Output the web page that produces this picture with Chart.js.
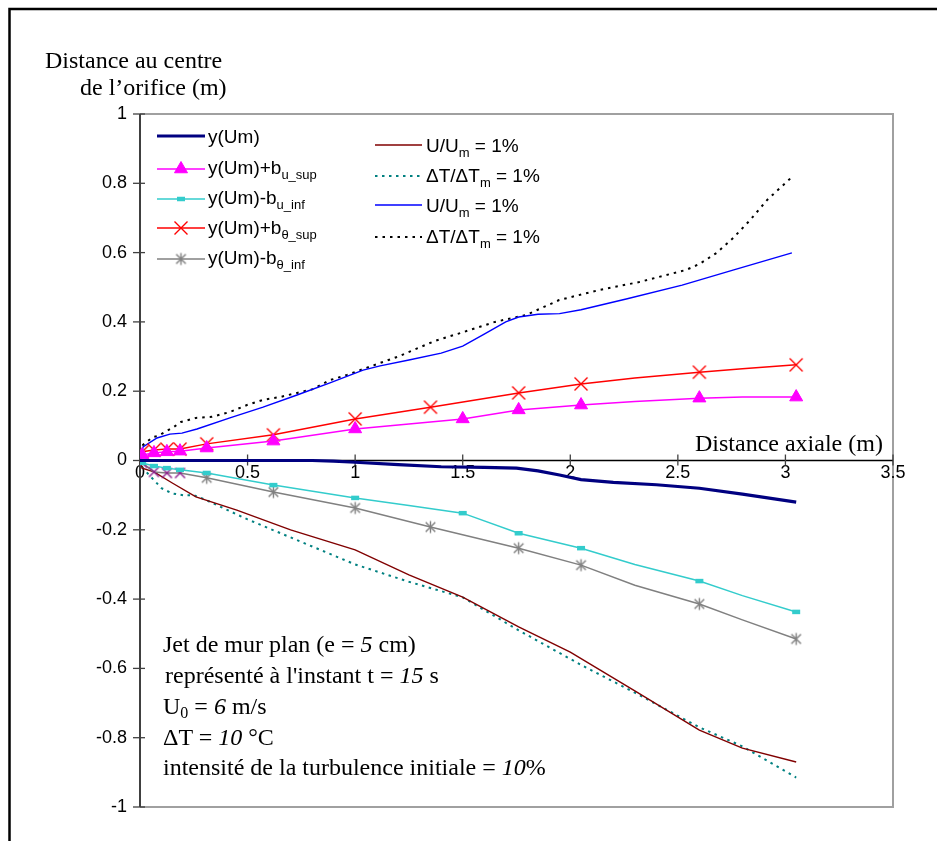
<!DOCTYPE html>
<html><head><meta charset="utf-8">
<script src="https://cdn.jsdelivr.net/npm/chart.js@4.4.0/dist/chart.umd.min.js"></script>
<style>
html,body{margin:0;padding:0;background:#fff;}
#wrap{position:relative;width:937px;height:841px;overflow:hidden;background:#fff;}
#c{position:absolute;left:0;top:0;}
.t{position:absolute;font-family:"Liberation Serif","Times New Roman",serif;font-size:24px;color:#000;white-space:pre;line-height:28px;transform:translateY(-50%);}
.t sub{font-size:16px;vertical-align:-4px;line-height:0;}
.lg{position:absolute;font-family:"Liberation Sans",Arial,sans-serif;font-size:19px;color:#000;white-space:nowrap;line-height:22px;transform:translateY(-50%);}
.lg sub{font-size:13px;vertical-align:-5px;line-height:0;}
</style></head>
<body>
<div id="wrap">
<canvas id="c" width="937" height="841"></canvas>
<div class="t" style="left:45px;top:60px;">Distance au centre</div>
<div class="t" style="left:80px;top:87px;">de l’orifice (m)</div>
<div class="t" style="left:695px;top:443px;">Distance axiale (m)</div>
<div class="t" style="left:163px;top:644px;">Jet de mur plan (e = <i>5</i> cm)</div>
<div class="t" style="left:159px;top:675px;"> représenté à l'instant t = <i>15</i> s</div>
<div class="t" style="left:163px;top:706px;">U<sub>0</sub> = <i>6</i> m/s</div>
<div class="t" style="left:163px;top:737px;">ΔT = <i>10</i> °C</div>
<div class="t" style="left:163px;top:767px;">intensité de la turbulence initiale = <i>10</i>%</div>
<div class="lg" style="left:208px;top:137px;">y(Um)</div>
<div class="lg" style="left:208px;top:168px;">y(Um)+b<sub>u_sup</sub></div>
<div class="lg" style="left:208px;top:198px;">y(Um)-b<sub>u_inf</sub></div>
<div class="lg" style="left:208px;top:228px;">y(Um)+b<sub>θ_sup</sub></div>
<div class="lg" style="left:208px;top:258px;">y(Um)-b<sub>θ_inf</sub></div>
<div class="lg" style="left:426px;top:146px;">U/U<sub>m</sub> = 1%</div>
<div class="lg" style="left:426px;top:176px;">ΔT/ΔT<sub>m</sub> = 1%</div>
<div class="lg" style="left:426px;top:206px;">U/U<sub>m</sub> = 1%</div>
<div class="lg" style="left:426px;top:237px;">ΔT/ΔT<sub>m</sub> = 1%</div>
</div>
<script>
// ---- data ----
const xTicks = [0, 0.5, 1, 1.5, 2, 2.5, 3, 3.5];
const yTicks = [1, 0.8, 0.6, 0.4, 0.2, 0, -0.2, -0.4, -0.6, -0.8, -1];

const umX = [0,0.2,0.4,0.6,0.8,0.9,1.0,1.2,1.4,1.6,1.75,1.85,1.95,2.05,2.2,2.4,2.6,2.8,3.05];
const umY = [0,0,0,0,0,-0.002,-0.005,-0.012,-0.018,-0.02,-0.022,-0.03,-0.042,-0.055,-0.063,-0.07,-0.08,-0.097,-0.12];

const buSupX = [0.01,0.065,0.125,0.186,0.31,0.62,1.0,1.25,1.5,1.76,2.05,2.3,2.6,2.8,3.05];
const buSupY = [0.016,0.022,0.025,0.027,0.036,0.056,0.091,0.105,0.12,0.146,0.16,0.17,0.18,0.183,0.183];
const buSupMarkX = [0.01,0.065,0.125,0.186,0.31,0.62,1.0,1.5,1.76,2.05,2.6,3.05];

const buInfX = [0.01,0.065,0.125,0.186,0.31,0.62,1.0,1.25,1.5,1.76,2.05,2.3,2.6,2.8,3.05];
const buInfY = [-0.007,-0.016,-0.022,-0.027,-0.036,-0.071,-0.108,-0.13,-0.152,-0.21,-0.253,-0.3,-0.348,-0.39,-0.437];
const buInfMarkX = [0.01,0.065,0.125,0.186,0.31,0.62,1.0,1.5,1.76,2.05,2.6,3.05];

const btSupX = [0.01,0.065,0.125,0.186,0.31,0.62,1.0,1.35,1.76,2.05,2.3,2.6,2.8,3.05];
const btSupY = [0.025,0.03,0.033,0.033,0.048,0.074,0.12,0.154,0.195,0.221,0.238,0.255,0.265,0.276];
const btSupMarkX = [0.01,0.065,0.125,0.186,0.31,0.62,1.0,1.35,1.76,2.05,2.6,3.05];

const btInfX = [0.01,0.065,0.125,0.186,0.31,0.62,1.0,1.35,1.76,2.05,2.3,2.6,2.8,3.05];
const btInfY = [-0.007,-0.033,-0.036,-0.036,-0.05,-0.091,-0.137,-0.192,-0.253,-0.302,-0.36,-0.414,-0.46,-0.515];
const btInfMarkX = [0.01,0.065,0.125,0.186,0.31,0.62,1.0,1.35,1.76,2.05,2.6,3.05];

const uLowX = [0,0.01,0.065,0.15,0.26,0.45,0.7,1.0,1.25,1.5,1.76,2.0,2.3,2.6,2.8,3.05];
const uLowY = [0,-0.022,-0.033,-0.065,-0.105,-0.143,-0.2,-0.258,-0.33,-0.394,-0.48,-0.553,-0.665,-0.778,-0.83,-0.87];

const tLowX = [0,0.01,0.1,0.15,0.2,0.25,0.3,0.5,0.75,1.0,1.25,1.5,1.76,2.05,2.3,2.6,2.8,3.05];
const tLowY = [0,-0.02,-0.08,-0.095,-0.1,-0.1,-0.112,-0.17,-0.235,-0.3,-0.35,-0.395,-0.49,-0.59,-0.67,-0.77,-0.825,-0.915];

const uUpX = [0,0.014,0.079,0.139,0.195,0.265,0.418,0.572,0.73,0.883,1.037,1.116,1.25,1.4,1.5,1.6,1.7,1.76,1.85,1.95,2.05,2.26,2.52,2.76,3.03];
const uUpY = [0,0.039,0.065,0.076,0.079,0.091,0.123,0.154,0.189,0.224,0.261,0.273,0.29,0.31,0.33,0.365,0.4,0.414,0.422,0.424,0.435,0.466,0.506,0.55,0.599];

const tUpX = [0,0.014,0.06,0.084,0.158,0.19,0.26,0.335,0.418,0.497,0.572,0.65,0.73,0.804,0.883,0.962,1.037,1.2,1.37,1.5,1.65,1.795,1.948,2.134,2.32,2.538,2.6,2.68,2.757,2.836,2.915,3.03];
const tUpY = [0,0.045,0.068,0.071,0.097,0.111,0.123,0.126,0.14,0.16,0.175,0.183,0.195,0.206,0.232,0.247,0.264,0.3,0.345,0.37,0.4,0.42,0.463,0.492,0.515,0.55,0.567,0.599,0.642,0.694,0.752,0.818];

// ---- helpers ----
const pts = (xs, ys) => xs.map((x, i) => ({x: x, y: ys[i]}));
function markIf(list, r) { return ctx => (ctx.raw && list.includes(ctx.raw.x)) ? r : 0; }

function makeStar(color, r) {
  const c = document.createElement('canvas');
  c.width = c.height = 2 * r + 3;
  const g = c.getContext('2d');
  const m = r + 1.5;
  g.strokeStyle = color; g.lineWidth = 1.4;
  g.beginPath();
  g.moveTo(m, m - r); g.lineTo(m, m + r);
  const d = r * 0.8;
  g.moveTo(m - d, m - d); g.lineTo(m + d, m + d);
  g.moveTo(m - d, m + d); g.lineTo(m + d, m - d);
  g.stroke();
  return c;
}
function makeX(color, r) {
  const c = document.createElement('canvas');
  c.width = c.height = 2 * r + 3;
  const g = c.getContext('2d');
  const m = r + 1.5;
  g.strokeStyle = color; g.lineWidth = 1.4;
  g.beginPath();
  g.moveTo(m - r, m - r); g.lineTo(m + r, m + r);
  g.moveTo(m - r, m + r); g.lineTo(m + r, m - r);
  g.stroke();
  return c;
}
const starGray = makeStar('#808080', 6);
const xPurple = makeX('#8B1A8B', 5);
const xRed = makeX('#FF0000', 6.5);

const NAVY = '#000080', MAG = '#FF00FF', CYAN = '#33CCCC', RED = '#FF0000', GRAY = '#808080';
const DRED = '#800000', TEAL = '#008080', BLUE = '#0000FF', BLACK = '#000000';

const datasets = [
  {label: 'y(Um)', data: pts(umX, umY), borderColor: NAVY, borderWidth: 3.2, pointRadius: 0},
  {label: 'y(Um)+bu_sup', data: pts(buSupX, buSupY), borderColor: MAG, borderWidth: 1.5,
    pointStyle: 'triangle', pointRadius: markIf(buSupMarkX, 7.5), pointBackgroundColor: MAG, pointBorderColor: MAG, pointBorderWidth: 1},
  {label: 'y(Um)-bu_inf', data: pts(buInfX, buInfY), borderColor: CYAN, borderWidth: 1.5,
    pointStyle: 'line', pointRadius: markIf(buInfMarkX, 4), pointBorderColor: CYAN, pointBorderWidth: 4.5},
  {label: 'y(Um)+bθ_sup', data: pts(btSupX, btSupY), borderColor: RED, borderWidth: 1.5,
    pointStyle: xRed, pointRadius: markIf(btSupMarkX, 6)},
  {label: 'y(Um)-bθ_inf', data: pts(btInfX, btInfY), borderColor: GRAY, borderWidth: 1.5,
    pointStyle: ctx => (ctx.dataIndex < 4 ? xPurple : starGray), pointRadius: markIf(btInfMarkX, 6)},
  {label: 'U/Um = 1% (bas)', data: pts(uLowX, uLowY), borderColor: DRED, borderWidth: 1.4, pointRadius: 0},
  {label: 'ΔT/ΔTm = 1% (bas)', data: pts(tLowX, tLowY), borderColor: TEAL, borderWidth: 2, borderDash: [2.5, 4.5], pointRadius: 0},
  {label: 'U/Um = 1% (haut)', data: pts(uUpX, uUpY), borderColor: BLUE, borderWidth: 1.4, pointRadius: 0},
  {label: 'ΔT/ΔTm = 1% (haut)', data: pts(tUpX, tUpY), borderColor: BLACK, borderWidth: 2, borderDash: [2.5, 5], pointRadius: 0}
];
datasets.forEach(d => { d.fill = false; d.tension = 0; d.pointHoverRadius = 0; });

// ---- frame / axes / legend symbols plugin ----
const decor = {
  id: 'decor',
  beforeDraw(chart) {
    const c = chart.ctx, a = chart.chartArea;
    c.save();
    c.fillStyle = '#fff'; c.fillRect(0, 0, chart.width, chart.height);
    c.strokeStyle = '#000'; c.lineWidth = 2.5;
    c.beginPath(); c.moveTo(9.5, 841); c.lineTo(9.5, 9); c.lineTo(937, 9); c.stroke();
    // plot border (grey)
    c.strokeStyle = '#A0A0A0'; c.lineWidth = 2;
    c.beginPath(); c.moveTo(a.left, a.top); c.lineTo(a.right, a.top); c.lineTo(a.right, a.bottom); c.lineTo(a.left, a.bottom); c.stroke();
    c.restore();
  },
  beforeDatasetsDraw(chart) {
    const c = chart.ctx, a = chart.chartArea, xs = chart.scales.x, ys = chart.scales.y;
    c.save();
    // y axis
    c.strokeStyle = '#404040'; c.lineWidth = 2;
    c.beginPath(); c.moveTo(a.left, a.top); c.lineTo(a.left, a.bottom); c.stroke();
    c.lineWidth = 1.3;
    yTicks.forEach(v => { const y = ys.getPixelForValue(v); c.beginPath(); c.moveTo(a.left - 7, y); c.lineTo(a.left + 5, y); c.stroke(); });
    // x axis at y = 0
    const y0 = ys.getPixelForValue(0);
    c.strokeStyle = '#000'; c.lineWidth = 1.5;
    c.beginPath(); c.moveTo(a.left, y0); c.lineTo(a.right, y0); c.stroke();
    c.strokeStyle = '#404040'; c.lineWidth = 1.3;
    xTicks.forEach(v => { const x = xs.getPixelForValue(v); c.beginPath(); c.moveTo(x, y0 - 6); c.lineTo(x, y0 + 5); c.stroke(); });
    c.restore();
  },
  afterDraw(chart) {
    const c = chart.ctx;
    const left = [[136, 0], [169, 1], [199, 2], [228, 3], [259, 4]];
    const right = [[145, 5], [176, 6], [205, 7], [237, 8]];
    const drawSample = (x1, x2, y, i) => {
      const d = datasets[i];
      c.save();
      c.strokeStyle = d.borderColor; c.lineWidth = d.borderWidth;
      c.setLineDash(d.borderDash || []);
      c.beginPath(); c.moveTo(x1, y); c.lineTo(x2, y); c.stroke();
      c.setLineDash([]);
      const xm = (x1 + x2) / 2;
      if (i === 1) { c.fillStyle = MAG; c.strokeStyle = MAG; c.lineWidth = 1; Chart.helpers.drawPoint(c, {pointStyle: 'triangle', radius: 7.5, rotation: 0, borderWidth: 1}, xm, y); }
      if (i === 2) { c.strokeStyle = CYAN; c.lineWidth = 4.5; Chart.helpers.drawPoint(c, {pointStyle: 'line', radius: 4, rotation: 0, borderWidth: 4.5}, xm, y); }
      if (i === 3) c.drawImage(xRed, xm - xRed.width / 2, y - xRed.height / 2);
      if (i === 4) c.drawImage(starGray, xm - starGray.width / 2, y - starGray.height / 2);
      c.restore();
    };
    left.forEach(([y, i]) => drawSample(157, 205, y, i));
    right.forEach(([y, i]) => drawSample(375, 422, y, i));
  }
};

new Chart(document.getElementById('c'), {
  type: 'line',
  data: {datasets: datasets},
  options: {
    responsive: false, animation: false, events: [],
    layout: {padding: {left: 0, top: 114, right: 44, bottom: 34}},
    plugins: {legend: {display: false}, tooltip: {enabled: false}, title: {display: false}},
    scales: {
      x: {type: 'linear', position: {y: 0}, min: 0, max: 3.5,
        grid: {display: false, drawTicks: false}, border: {display: false},
        afterBuildTicks: s => { s.ticks = xTicks.map(v => ({value: v})); },
        ticks: {padding: 2, color: '#000', font: {family: '"Liberation Sans", Arial, sans-serif', size: 18}, maxRotation: 0, autoSkip: false,
          callback: v => String(v)}},
      y: {type: 'linear', position: 'left', min: -1, max: 1,
        grid: {display: false, drawTicks: false}, border: {display: false},
        afterBuildTicks: s => { s.ticks = yTicks.map(v => ({value: v})); },
        afterFit: s => { s.width = 140; },
        ticks: {padding: 13, color: '#000', font: {family: '"Liberation Sans", Arial, sans-serif', size: 18}, autoSkip: false,
          callback: v => String(v)}}
    }
  },
  plugins: [decor]
});
</script>
</body></html>
